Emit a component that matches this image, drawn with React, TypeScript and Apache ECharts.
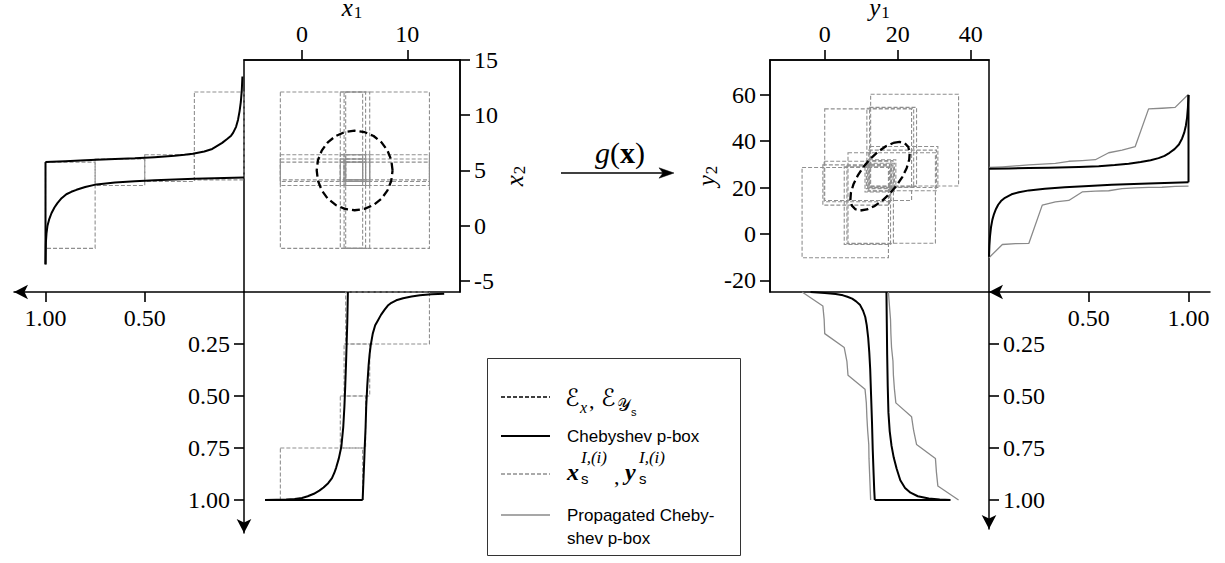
import React, { useEffect, useRef } from "react";
import * as echarts from "echarts";

const SERIF = "'Liberation Serif', 'Times New Roman', serif";
const SANS = "'Liberation Sans', Arial, sans-serif";
const MATH = "'Liberation Serif', 'DejaVu Serif', 'DejaVu Sans', serif";

// ---- axis ranges and tick values ----
const x1Range = [-5.5, 15];
const x2Range = [-6, 15];
const y1Range = [-15, 45];
const y2Range = [-25, 75];
const x1Ticks = [0, 10];
const x2Ticks = [-5, 0, 5, 10, 15];
const y1Ticks = [0, 20, 40];
const y2Ticks = [-20, 0, 20, 40, 60];
const probTicksVertical = [0.25, 0.5, 0.75, 1.0];
const probTicksHorizontal = [0.5, 1.0];

// ---- input focal elements (same for x1 and x2) ----
const xFocalIntervals: number[][] = [
  [-2.05, 5.76],
  [3.64, 6.04],
  [4.0, 6.43],
  [4.15, 12.1],
];
const xFocalProb: number[][] = [
  [0.75, 1.0],
  [0.5, 0.75],
  [0.25, 0.5],
  [0.0, 0.25],
];

// ---- Chebyshev p-box of x (same for x1, x2): [p, value] ----
const xPboxLow: number[][] = [
  [1.0, -3.5], [0.999, -2.4], [0.998, -1.5], [0.995, -0.69], [0.99, 0.0], [0.982, 0.55],
  [0.97, 1.13], [0.955, 1.65], [0.94, 2.05], [0.919, 2.49], [0.895, 2.85], [0.87, 3.07],
  [0.844, 3.25], [0.8, 3.5], [0.743, 3.74], [0.65, 3.92], [0.55, 4.03], [0.45, 4.11],
  [0.35, 4.18], [0.25, 4.24], [0.15, 4.3], [0.05, 4.34], [0.0, 4.36],
];
const xPboxHigh: number[][] = [
  [1.0, 5.76], [0.9, 5.84], [0.8, 5.92], [0.743, 5.96], [0.65, 6.04], [0.55, 6.1],
  [0.45, 6.2], [0.35, 6.33], [0.3, 6.42], [0.258, 6.52], [0.2, 6.72], [0.16, 6.95],
  [0.139, 7.18], [0.11, 7.5], [0.085, 7.85], [0.065, 8.15], [0.055, 8.4], [0.04, 8.95],
  [0.03, 9.6], [0.022, 10.4], [0.016, 11.2], [0.011, 12.3], [0.008, 13.5],
];

// ---- ellipsoid E_x (circle) in x1-x2 ----
const circleX1 = [8.6, 8.48, 8.12, 7.55, 6.8, 5.93, 5.0, 4.07, 3.2, 2.45, 1.88, 1.52, 1.4, 1.52, 1.88, 2.45, 3.2, 4.07, 5.0, 5.93, 6.8, 7.55, 8.12, 8.48, 8.6];
const circleX2 = [5.0, 5.93, 6.8, 7.55, 8.12, 8.48, 8.6, 8.48, 8.12, 7.55, 6.8, 5.93, 5.0, 4.07, 3.2, 2.45, 1.88, 1.52, 1.4, 1.52, 1.88, 2.45, 3.2, 4.07, 5.0];

// ---- ellipsoid E_ys in y1-y2 ----
const ellipseY1 = [18.75, 20.52, 21.92, 22.86, 23.28, 23.14, 22.46, 21.28, 19.68, 17.77, 15.69, 13.57, 11.55, 9.78, 8.38, 7.44, 7.02, 7.16, 7.84, 9.02, 10.62, 12.53, 14.61, 16.74, 18.75];
const ellipseY2 = [39.23, 39.67, 39.11, 37.58, 35.18, 32.09, 28.5, 24.67, 20.85, 17.31, 14.29, 11.99, 10.57, 10.13, 10.69, 12.22, 14.62, 17.71, 21.3, 25.13, 28.95, 32.49, 35.51, 37.81, 39.23];

// ---- propagated focal elements: [y1lo, y1hi, y2lo, y2hi] ----
const yFocalBoxes: number[][] = [
  [-6.21, 17.45, -10.21, 28.68],
  [5.34, 18.02, -4.52, 28.96],
  [6.07, 18.81, -4.16, 29.35],
  [6.37, 30.32, -4.01, 35.02],
  [-0.52, 17.73, 12.44, 29.8],
  [11.03, 18.3, 18.13, 30.08],
  [11.76, 19.09, 18.49, 30.47],
  [12.06, 30.6, 18.64, 36.14],
  [-0.16, 18.12, 13.87, 31.35],
  [11.39, 18.69, 19.56, 31.63],
  [12.12, 19.48, 19.92, 32.02],
  [12.42, 30.99, 20.07, 37.69],
  [-0.01, 23.79, 14.47, 53.92],
  [11.54, 24.36, 20.16, 54.2],
  [12.27, 25.15, 20.52, 54.59],
  [12.57, 36.66, 20.67, 60.26],
];

// ---- propagated Chebyshev p-box (grey) ----
const propProb = [0, 0.067, 0.133, 0.2, 0.267, 0.333, 0.4, 0.467, 0.533, 0.6, 0.667, 0.733, 0.8, 0.867, 0.933, 1.0];
const y1PropLow = [-6.21, -0.52, -0.16, -0.01, 5.34, 6.07, 6.37, 11.03, 11.39, 11.54, 11.76, 12.06, 12.12, 12.27, 12.42, 12.57];
const y1PropHigh = [17.45, 17.73, 18.02, 18.12, 18.3, 18.69, 18.81, 19.09, 19.48, 23.79, 24.36, 25.15, 30.32, 30.6, 30.99, 36.66];
const y2PropLow = [-10.21, -4.52, -4.16, -4.01, 12.44, 13.87, 14.47, 18.13, 18.49, 18.64, 19.56, 19.92, 20.07, 20.16, 20.52, 20.67];
const y2PropHigh = [28.68, 28.96, 29.35, 29.8, 30.08, 30.47, 31.35, 31.63, 32.02, 35.02, 36.14, 37.69, 53.92, 54.2, 54.59, 60.26];

// ---- Chebyshev p-box of y2: [p, y2] ----
const y2PboxHigh: number[][] = [
  [0, 28.1], [0.1, 28.25], [0.2, 28.4], [0.3, 28.6], [0.45, 28.85], [0.55, 29.2], [0.63, 29.7],
  [0.7, 30.3], [0.76, 31.0], [0.81, 31.8], [0.85, 32.7], [0.88, 33.7], [0.905, 35.0], [0.93, 36.6],
  [0.952, 38.6], [0.968, 41.2], [0.979, 43.8], [0.987, 46.8], [0.993, 50.3], [0.997, 54.5], [1.0, 59.9],
];
const y2PboxLow: number[][] = [
  [0, -9.8], [0.002, -5.0], [0.005, -1.0], [0.01, 2.9], [0.017, 6.2], [0.025, 8.6], [0.035, 10.8],
  [0.046, 12.6], [0.06, 14.2], [0.08, 15.6], [0.113, 17.1], [0.15, 18.0], [0.2, 18.8], [0.28, 19.5],
  [0.38, 20.1], [0.5, 20.7], [0.615, 21.2], [0.8, 21.8], [1.0, 22.3],
];

// ---- Chebyshev p-box of y1: [y1, p] ----
const y1PboxLow: number[][] = [
  [-3.9, 0], [0, 0.005], [3, 0.01], [5, 0.016], [6.2, 0.023], [7.5, 0.032], [8.6, 0.045], [9.7, 0.063],
  [10.5, 0.09], [11.1, 0.12], [11.5, 0.159], [11.9, 0.22], [12.2, 0.29], [12.45, 0.37], [12.7, 0.5],
  [12.95, 0.63], [13.15, 0.76], [13.4, 0.88], [13.55, 0.95], [13.7, 1.0],
];
const y1PboxHigh: number[][] = [
  [16.9, 0], [17.0, 0.15], [17.1, 0.3], [17.25, 0.45], [17.45, 0.58], [17.8, 0.67], [18.3, 0.74],
  [18.9, 0.796], [19.7, 0.85], [20.7, 0.905], [22.0, 0.942], [23.5, 0.965], [25.5, 0.982],
  [28.5, 0.993], [31.5, 0.998], [34.4, 1.0],
];

// ---------------------------------------------------------------------------

const BLACK = "#000";
const GREY_DASH = "#8f8f8f";
const GREY_LINE = "#8a8a8a";
const TICK_LEN = 10;

const tickStyle = { length: TICK_LEN, lineStyle: { color: BLACK, width: 1.6 } };
const labelBase = { color: BLACK, fontFamily: SERIF, fontSize: 24, margin: 14 };

function mainAxis(extra: any, ticks: number[]) {
  return {
    type: "value",
    splitLine: { show: false },
    axisLine: { show: true, onZero: false, lineStyle: { color: BLACK, width: 1.5 } },
    axisTick: { show: true, customValues: ticks, ...tickStyle },
    axisLabel: { ...labelBase, customValues: ticks, formatter: (v: number) => String(v) },
    ...extra,
  };
}

function probAxis(extra: any, ticks: number[]) {
  return {
    type: "value",
    min: 0,
    splitLine: { show: false },
    axisLine: {
      show: true,
      onZero: false,
      symbol: ["arrow", "none"],
      symbolSize: [11, 14],
      lineStyle: { color: BLACK, width: 1.5 },
    },
    axisTick: { show: true, customValues: ticks, ...tickStyle },
    axisLabel: { ...labelBase, customValues: ticks, formatter: (v: number) => v.toFixed(2) },
    ...extra,
  };
}

function hiddenAxis(extra: any) {
  return { type: "value", show: false, splitLine: { show: false }, axisLine: { onZero: false }, ...extra };
}

function boxSeries(data: number[][], xi: number, yi: number, color: string) {
  return {
    type: "custom",
    xAxisIndex: xi,
    yAxisIndex: yi,
    data,
    silent: true,
    z: 2,
    encode: { x: [0, 1], y: [2, 3] },
    renderItem: (_p: any, api: any) => {
      const a = api.coord([api.value(0), api.value(2)]);
      const b = api.coord([api.value(1), api.value(3)]);
      return {
        type: "rect",
        shape: {
          x: Math.min(a[0], b[0]),
          y: Math.min(a[1], b[1]),
          width: Math.abs(b[0] - a[0]),
          height: Math.abs(b[1] - a[1]),
        },
        style: { fill: "none", stroke: color, lineWidth: 1.1, lineDash: [4, 2] },
      };
    },
  };
}

function lineSeries(data: number[][], xi: number, yi: number, color: string, width: number, dash?: number[], z = 3) {
  return {
    type: "line",
    xAxisIndex: xi,
    yAxisIndex: yi,
    data,
    showSymbol: false,
    symbol: "none",
    silent: true,
    z,
    lineStyle: { color, width, type: dash ?? "solid", cap: "butt", join: "round" },
  };
}

const swap = (arr: number[][]) => arr.map(([a, b]) => [b, a]);

function buildOption() {
  const leftMainBoxes = xFocalIntervals.flatMap((a) => xFocalIntervals.map((b) => [a[0], a[1], b[0], b[1]]));
  const leftMargBoxes = xFocalIntervals.map((iv, k) => [xFocalProb[k][0], xFocalProb[k][1], iv[0], iv[1]]);
  const bottomMargBoxes = xFocalIntervals.map((iv, k) => [iv[0], iv[1], xFocalProb[k][0], xFocalProb[k][1]]);

  const circle = circleX1.map((v, i) => [v, circleX2[i]]);
  const ellipse = ellipseY1.map((v, i) => [v, ellipseY2[i]]);

  const leftCap = [
    [1, xPboxLow[0][1]],
    [1, xPboxHigh[0][1]],
  ];
  const bottomCap = swap(leftCap);

  const rightCap = [
    [1, y2PboxLow[y2PboxLow.length - 1][1]],
    [1, y2PboxHigh[y2PboxHigh.length - 1][1]],
  ];
  const rbCap = [
    [y1PboxLow[y1PboxLow.length - 1][0], 1],
    [y1PboxHigh[y1PboxHigh.length - 1][0], 1],
  ];

  const nameRich = {
    i: { fontFamily: SERIF, fontStyle: "italic", fontSize: 25, color: BLACK },
    s: { fontFamily: SERIF, fontSize: 17, color: BLACK, padding: [10, 0, 0, 1] },
  };

  const g = (o: any) => ({ outerBoundsMode: "none", containLabel: false, ...o });

  return {
    animation: false,
    backgroundColor: "#fff",
    grid: [
      g({ left: 244, top: 60, width: 216, height: 232, show: true, borderColor: BLACK, borderWidth: 1.5 }),
      g({ left: 14, top: 60, width: 230, height: 232 }),
      g({ left: 244, top: 292, width: 216, height: 241 }),
      g({ left: 770, top: 60, width: 219, height: 232, show: true, borderColor: BLACK, borderWidth: 1.5 }),
      g({ left: 989, top: 60, width: 221, height: 232 }),
      g({ left: 770, top: 292, width: 219, height: 237 }),
    ],
    xAxis: [
      mainAxis(
        {
          gridIndex: 0, position: "top", min: x1Range[0], max: x1Range[1],
          name: "{i|x}{s|1}", nameLocation: "middle", nameGap: 27,
          nameTextStyle: { rich: nameRich },
        },
        x1Ticks,
      ),
      probAxis({ gridIndex: 1, position: "bottom", inverse: true, max: 230 / 198.5 }, probTicksHorizontal),
      hiddenAxis({ gridIndex: 2, min: x1Range[0], max: x1Range[1] }),
      mainAxis(
        {
          gridIndex: 3, position: "top", min: y1Range[0], max: y1Range[1],
          name: "{i|y}{s|1}", nameLocation: "middle", nameGap: 27,
          nameTextStyle: { rich: nameRich },
        },
        y1Ticks,
      ),
      probAxis({ gridIndex: 4, position: "bottom", max: 221 / 199.5 }, probTicksHorizontal),
      hiddenAxis({ gridIndex: 5, min: y1Range[0], max: y1Range[1] }),
    ],
    yAxis: [
      mainAxis(
        {
          gridIndex: 0, position: "right", min: x2Range[0], max: x2Range[1],
          name: "{i|x}{s|2}", nameLocation: "middle", nameGap: 40, nameRotate: 90,
          nameTextStyle: { rich: nameRich },
        },
        x2Ticks,
      ),
      hiddenAxis({ gridIndex: 1, min: x2Range[0], max: x2Range[1] }),
      probAxis({ gridIndex: 2, position: "left", inverse: true, max: 241 / 208 }, probTicksVertical),
      mainAxis(
        {
          gridIndex: 3, position: "left", min: y2Range[0], max: y2Range[1],
          name: "{i|y}{s|2}", nameLocation: "middle", nameGap: 48, nameRotate: 90,
          nameTextStyle: { rich: nameRich },
        },
        y2Ticks,
      ),
      hiddenAxis({ gridIndex: 4, min: y2Range[0], max: y2Range[1] }),
      probAxis({ gridIndex: 5, position: "right", inverse: true, max: 237 / 208 }, probTicksVertical),
    ],
    series: [
      // left main
      boxSeries(leftMainBoxes, 0, 0, GREY_DASH),
      lineSeries(circle, 0, 0, BLACK, 2.3, [8, 4], 4),
      // left marginal (x2)
      boxSeries(leftMargBoxes, 1, 1, GREY_DASH),
      lineSeries(xPboxLow, 1, 1, BLACK, 2),
      lineSeries(xPboxHigh, 1, 1, BLACK, 2),
      lineSeries(leftCap, 1, 1, BLACK, 2),
      // bottom marginal (x1)
      boxSeries(bottomMargBoxes, 2, 2, GREY_DASH),
      lineSeries(swap(xPboxLow), 2, 2, BLACK, 2),
      lineSeries(swap(xPboxHigh), 2, 2, BLACK, 2),
      lineSeries(bottomCap, 2, 2, BLACK, 2),
      // right main
      boxSeries(yFocalBoxes, 3, 3, GREY_DASH),
      lineSeries(ellipse, 3, 3, BLACK, 2.3, [8, 4], 4),
      // right marginal (y2)
      lineSeries(propProb.map((p, i) => [p, y2PropHigh[i]]), 4, 4, GREY_LINE, 1.3, undefined, 2),
      lineSeries(propProb.map((p, i) => [p, y2PropLow[i]]), 4, 4, GREY_LINE, 1.3, undefined, 2),
      lineSeries(y2PboxHigh, 4, 4, BLACK, 2),
      lineSeries(y2PboxLow, 4, 4, BLACK, 2),
      lineSeries(rightCap, 4, 4, BLACK, 2),
      // right-bottom marginal (y1)
      lineSeries(propProb.map((p, i) => [y1PropLow[i], p]), 5, 5, GREY_LINE, 1.3, undefined, 2),
      lineSeries(propProb.map((p, i) => [y1PropHigh[i], p]), 5, 5, GREY_LINE, 1.3, undefined, 2),
      lineSeries(y1PboxLow, 5, 5, BLACK, 2),
      lineSeries(y1PboxHigh, 5, 5, BLACK, 2),
      lineSeries(rbCap, 5, 5, BLACK, 2),
    ],
    graphic: [
      // mapping arrow g(x)
      { type: "line", shape: { x1: 561, y1: 173, x2: 666, y2: 173 }, style: { stroke: BLACK, lineWidth: 1.4 } },
      {
        type: "polygon",
        shape: { points: [[674, 173], [659, 167.8], [663, 173], [659, 178.2]] },
        style: { fill: BLACK, stroke: BLACK, lineWidth: 0.5 },
      },
      {
        type: "text",
        x: 620,
        y: 152,
        style: {
          text: "{g|g}{p|(}{b|x}{p|)}",
          align: "center",
          verticalAlign: "middle",
          rich: {
            g: { fontFamily: SERIF, fontStyle: "italic", fontSize: 30, fill: BLACK },
            p: { fontFamily: SERIF, fontSize: 30, fill: BLACK },
            b: { fontFamily: SERIF, fontWeight: "bold", fontSize: 30, fill: BLACK },
          },
        },
      },
      // legend
      {
        type: "rect",
        shape: { x: 487.5, y: 358.5, width: 253, height: 197 },
        style: { fill: "#fff", stroke: "#333", lineWidth: 1 },
        z: 10,
      },
      { type: "line", z: 11, shape: { x1: 501, y1: 397, x2: 550, y2: 397 }, style: { stroke: BLACK, lineWidth: 1.5, lineDash: [4, 2] } },
      { type: "line", z: 11, shape: { x1: 501, y1: 436, x2: 550, y2: 436 }, style: { stroke: BLACK, lineWidth: 2 } },
      { type: "line", z: 11, shape: { x1: 501, y1: 474, x2: 550, y2: 474 }, style: { stroke: GREY_DASH, lineWidth: 1.3, lineDash: [4, 2] } },
      { type: "line", z: 11, shape: { x1: 501, y1: 515, x2: 550, y2: 515 }, style: { stroke: GREY_LINE, lineWidth: 1.5 } },
      // row 1: E_x, E_ys
      { type: "text", z: 11, x: 565, y: 398, style: { text: "ℰ", fontFamily: MATH, fontSize: 24, fill: BLACK, verticalAlign: "middle" } },
      { type: "text", z: 11, x: 580, y: 407, style: { text: "x", fontFamily: SERIF, fontStyle: "italic", fontSize: 16, fill: BLACK, verticalAlign: "middle" } },
      { type: "text", z: 11, x: 589, y: 400, style: { text: ",", fontFamily: SERIF, fontSize: 22, fill: BLACK, verticalAlign: "middle" } },
      { type: "text", z: 11, x: 601, y: 398, style: { text: "ℰ", fontFamily: MATH, fontSize: 24, fill: BLACK, verticalAlign: "middle" } },
      { type: "text", z: 11, x: 617, y: 405, style: { text: "𝒴", fontFamily: MATH, fontSize: 17, fill: BLACK, verticalAlign: "middle" } },
      { type: "text", z: 11, x: 631, y: 412, style: { text: "s", fontFamily: SANS, fontSize: 11, fill: BLACK, verticalAlign: "middle" } },
      // row 2
      { type: "text", z: 11, x: 567, y: 436, style: { text: "Chebyshev p-box", fontFamily: SANS, fontSize: 17, fill: BLACK, verticalAlign: "middle" } },
      // row 3
      { type: "text", z: 11, x: 567, y: 472, style: { text: "x", fontFamily: SERIF, fontStyle: "italic", fontWeight: "bold", fontSize: 24, fill: BLACK, verticalAlign: "middle" } },
      { type: "text", z: 11, x: 581, y: 457, style: { text: "I,(i)", fontFamily: SERIF, fontStyle: "italic", fontSize: 17, fill: BLACK, verticalAlign: "middle" } },
      { type: "text", z: 11, x: 581, y: 478, style: { text: "s", fontFamily: SANS, fontSize: 15, fill: BLACK, verticalAlign: "middle" } },
      { type: "text", z: 11, x: 614, y: 476, style: { text: ",", fontFamily: SERIF, fontSize: 22, fill: BLACK, verticalAlign: "middle" } },
      { type: "text", z: 11, x: 625, y: 472, style: { text: "y", fontFamily: SERIF, fontStyle: "italic", fontWeight: "bold", fontSize: 24, fill: BLACK, verticalAlign: "middle" } },
      { type: "text", z: 11, x: 639, y: 457, style: { text: "I,(i)", fontFamily: SERIF, fontStyle: "italic", fontSize: 17, fill: BLACK, verticalAlign: "middle" } },
      { type: "text", z: 11, x: 639, y: 478, style: { text: "s", fontFamily: SANS, fontSize: 15, fill: BLACK, verticalAlign: "middle" } },
      // row 4
      { type: "text", z: 11, x: 567, y: 515, style: { text: "Propagated Cheby-", fontFamily: SANS, fontSize: 17, fill: BLACK, verticalAlign: "middle" } },
      { type: "text", z: 11, x: 567, y: 538, style: { text: "shev p-box", fontFamily: SANS, fontSize: 17, fill: BLACK, verticalAlign: "middle" } },
    ],
  };
}

export default function App() {
  const ref = useRef<HTMLDivElement>(null);
  useEffect(() => {
    if (!ref.current) return;
    const chart = echarts.init(ref.current, null, { renderer: "svg" });
    chart.setOption(buildOption() as any);
    return () => chart.dispose();
  }, []);
  return (
    <div
      ref={ref}
      style={{ position: "absolute", left: 0, top: 0, width: 1225, height: 563, background: "#fff" }}
    />
  );
}
